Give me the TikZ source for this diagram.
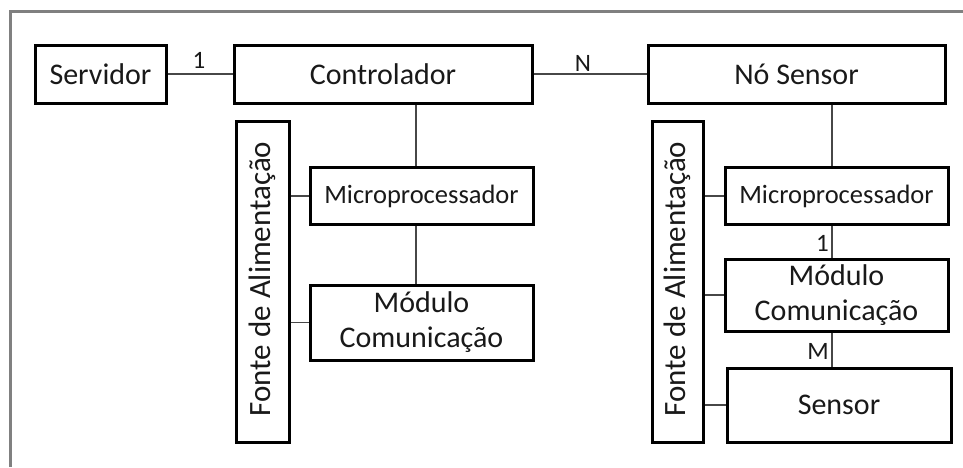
\documentclass[tikz,border=0pt]{standalone}
\usepackage{fontspec}
\setmainfont{Carlito}
\begin{document}
\begin{tikzpicture}[x=1pt,y=-1pt,
  box/.style={draw=black,line width=3pt,inner sep=0pt,align=center,text=black!90,font=\fontsize{30}{35}\selectfont},
  smallbox/.style={box,font=\fontsize{26.5}{30}\selectfont},
  conn/.style={draw=black!72,line width=1.8pt},
  card/.style={inner sep=0pt,text=black!90,font=\fontsize{25}{28}\selectfont},
  vtext/.style={rotate=90,inner sep=0pt,text=black!90,font=\fontsize{31}{35}\selectfont}]
\useasboundingbox (0,0) rectangle (963,467);
\fill[white] (0,0) rectangle (963,467);
\draw[draw=black!50,line width=3pt] (10,467) -- (10,11) -- (963,11);

\node[box,minimum width=131,minimum height=58] (serv) at (100.5,74) {Servidor};
\node[box,minimum width=298,minimum height=58] (ctrl) at (383,74) {Controlador};
\node[box,minimum width=297,minimum height=58] (ns) at (796.5,74) {Nó Sensor};

\node[box,minimum width=53,minimum height=321] (fonte1) at (262.5,281.5) {};
\node[vtext] (fonte1t) at (262.5,279) {Fonte de Alimentação};
\node[smallbox,minimum width=223,minimum height=57] (micro1) at (421.5,196) {Microprocessador};
\node[box,minimum width=223,minimum height=75] (mod1) at (421.5,322.5) {Módulo\\Comunicação};

\node[box,minimum width=51,minimum height=321] (fonte2) at (677.5,281.5) {};
\node[vtext] (fonte2t) at (677.5,279) {Fonte de Alimentação};
\node[smallbox,minimum width=223,minimum height=57] (micro2) at (836.5,196) {Microprocessador};
\node[box,minimum width=223,minimum height=72] (mod2) at (836.5,295) {Módulo\\Comunicação};
\node[box,minimum width=224,minimum height=74] (sensor) at (839,405) {Sensor};

\coordinate (c1) at (416,0);
\coordinate (c2) at (832,0);

\draw[conn] (serv.east) -- (ctrl.west);
\draw[conn] (ctrl.east) -- (ns.west);
\draw[conn] (ctrl.south -| c1) -- (micro1.north -| c1);
\draw[conn] (micro1.south -| c1) -- (mod1.north -| c1);
\draw[conn] (fonte1.east |- micro1.west) -- (micro1.west);
\draw[conn] (fonte1.east |- mod1.west) -- (mod1.west);

\draw[conn] (ns.south -| c2) -- (micro2.north -| c2);
\draw[conn] (micro2.south -| c2) -- (mod2.north -| c2);
\draw[conn] (mod2.south -| c2) -- (sensor.north -| c2);
\draw[conn] (fonte2.east |- micro2.west) -- (micro2.west);
\draw[conn] (fonte2.east |- mod2.west) -- (mod2.west);
\draw[conn] (fonte2.east |- sensor.west) -- (sensor.west);

\node[card] (l1) at (199,60) {1};
\node[card] (lN) at (583,63) {N};
\node[card,anchor=east] (l2) at (829,243) {1};
\node[card,anchor=east] (lM) at (829,351) {M};
\end{tikzpicture}
\end{document}
